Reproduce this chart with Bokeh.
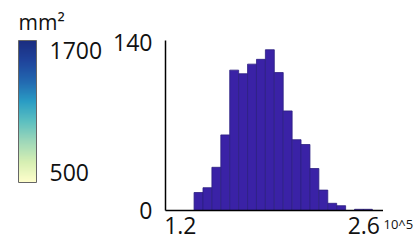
import numpy as np
from bokeh.plotting import figure
from bokeh.models import ColorBar, LinearColorMapper, FixedTicker, Range1d, Title
from bokeh.layouts import row
from bokeh.embed import file_html
from bokeh.resources import INLINE

# ---- data ----
bin_left = [1.305, 1.373, 1.441, 1.509, 1.577, 1.645, 1.713, 1.781, 1.849, 1.917,
            1.985, 2.053, 2.121, 2.189, 2.257, 2.325, 2.393, 2.461, 2.529, 2.597]
bin_right = [1.373, 1.441, 1.509, 1.577, 1.645, 1.713, 1.781, 1.849, 1.917, 1.985,
             2.053, 2.121, 2.189, 2.257, 2.325, 2.393, 2.461, 2.529, 2.597, 2.665]
counts = [15, 19, 36, 63, 117, 114, 122, 126, 134, 115,
          83, 59, 55, 35, 17, 6, 4, 0, 1, 1]
x_ticks = [1.2, 2.6]
x_tick_labels = {1.2: "1.2", 2.6: "2.6"}
y_ticks = [0, 140]
cbar_ticks = [500, 1700]
cbar_low, cbar_high = 400, 1800
unit_text = "mm\u00b2"
scale_text = "10^5"

FONT = "Open Sans"
TXT = "#111111"
anchor_colors = ["#ffffcc", "#d6efb3", "#9fd8b9", "#5dc0c0", "#2a9cc4",
                 "#2268b0", "#1f449c", "#1b2d80"]

def hex2rgb(h):
    return np.array([int(h[i:i + 2], 16) for i in (1, 3, 5)], dtype=float)

anchors = np.array([hex2rgb(c) for c in anchor_colors])
tt = np.linspace(0, 1, len(anchor_colors))
palette = []
for s in np.linspace(0, 1, 256):
    rgb = [np.interp(s, tt, anchors[:, k]) for k in range(3)]
    palette.append("#%02x%02x%02x" % tuple(int(round(v)) for v in rgb))

TOP, BOTTOM = 40, 35
H = 245

def bare(fig):
    fig.outline_line_color = None
    fig.grid.visible = False

# ---- colour bar panel ----
pa = figure(width=110, height=H, x_range=(0, 1), y_range=(0, 1),
            toolbar_location=None, output_backend="svg",
            x_axis_location=None, y_axis_location=None,
            min_border_left=18, min_border_right=2,
            min_border_top=TOP, min_border_bottom=BOTTOM)
bare(pa)
pa.scatter(x=[], y=[])

mapper = LinearColorMapper(palette=palette, low=cbar_low, high=cbar_high)
cb = ColorBar(color_mapper=mapper, ticker=FixedTicker(ticks=cbar_ticks),
              width=18, height=142, location="top_left", margin=0, padding=0,
              label_standoff=13, major_label_text_font=FONT,
              major_label_text_font_size="23px", major_label_text_color=TXT,
              major_tick_line_color=None, minor_tick_line_color=None,
              bar_line_color="#666666", bar_line_width=1,
              border_line_color=None, background_fill_color=None)
pa.add_layout(cb, "center")
pa.add_layout(Title(text=unit_text, align="left", text_font=FONT,
                    text_font_size="21px", text_font_style="normal",
                    text_color=TXT, standoff=10), "above")

# ---- histogram ----
p = figure(width=273, height=H, x_range=Range1d(1.087, 2.75),
           y_range=Range1d(0, 141.7), toolbar_location=None, output_backend="svg",
           min_border_left=52, min_border_right=0,
           min_border_top=TOP, min_border_bottom=BOTTOM)
bare(p)

p.quad(left=bin_left, right=bin_right, top=counts, bottom=0,
       fill_color="#3a22a6", line_color="#2c1f82", line_width=0.8)

for ax in (p.xaxis[0], p.yaxis[0]):
    ax.axis_line_color = "#000000"
    ax.axis_line_width = 1.5
    ax.major_tick_line_color = None
    ax.minor_tick_line_color = None
    ax.major_label_text_font = FONT
    ax.major_label_text_font_size = "23px"
    ax.major_label_text_color = TXT

p.xaxis[0].ticker = FixedTicker(ticks=x_ticks)
p.xaxis[0].major_label_overrides = x_tick_labels
p.xaxis[0].major_label_standoff = 0
p.yaxis[0].ticker = FixedTicker(ticks=y_ticks)
p.yaxis[0].major_label_standoff = 7

# ---- exponent note ----
pc = figure(width=35, height=H, x_range=(0, 1), y_range=(0, 1),
            toolbar_location=None, output_backend="svg",
            x_axis_location=None, y_axis_location=None,
            min_border_left=0, min_border_right=0,
            min_border_top=TOP, min_border_bottom=BOTTOM)
bare(pc)
pc.scatter(x=[], y=[])
pc.add_layout(Title(text=scale_text, align="left", text_font=FONT,
                    text_font_size="13px", text_font_style="normal",
                    text_color=TXT, vertical_align="top", standoff=8), "below")

layout = row(pa, p, pc)
open("out.html", "w").write(file_html(layout, INLINE))
